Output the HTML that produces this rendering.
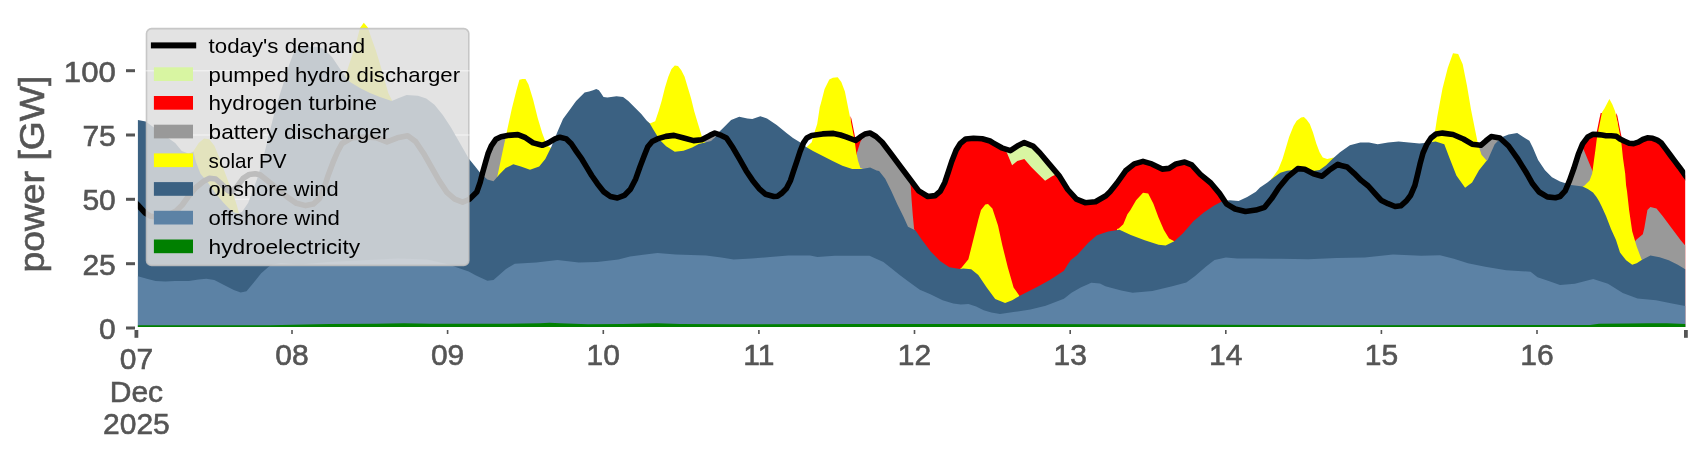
<!DOCTYPE html>
<html><head><meta charset="utf-8"><style>
html,body{margin:0;padding:0;background:#fff;}
body{width:1706px;height:460px;overflow:hidden;}
svg{display:block;will-change:transform;}
text{font-family:"Liberation Sans",sans-serif;}
.tl{font-size:30px;fill:#555555;stroke:#555555;stroke-width:0.6px;}
.yl{font-size:34.5px;fill:#555555;stroke:#555555;stroke-width:0.6px;}
.lg{font-size:21px;fill:#000;}
</style></head><body>
<svg width="1706" height="460" viewBox="0 0 1706 460" shape-rendering="geometricPrecision">
<rect width="1706" height="460" fill="#fff"/>
<defs><clipPath id="dc"><rect x="137.9" y="0" width="1547.3" height="328"/></clipPath></defs>
<g clip-path="url(#dc)">
<polygon points="850.5,327.0 850.5,116.0 851.5,119.0 853.2,127.4 855.5,139.3 860.4,136.9 865.0,134.0 870.0,133.0 876.0,136.5 882.2,142.2 891.3,154.3 900.4,166.5 909.6,178.7 918.7,190.9 927.8,196.5 935.2,195.6 940.4,191.1 944.8,182.4 948.3,172.0 951.7,161.5 956.1,150.2 960.4,143.3 965.7,139.0 973.5,138.2 982.2,138.8 990.0,141.0 993.0,142.8 1001.7,147.8 1010.4,150.6 1017.3,146.1 1024.3,142.6 1033.0,146.1 1039.9,153.0 1048.6,163.4 1059.0,175.6 1067.7,189.5 1076.4,199.2 1085.1,202.7 1095.5,201.7 1105.9,195.7 1110.0,191.7 1117.0,183.0 1125.6,170.8 1134.3,163.9 1143.0,161.4 1151.7,163.9 1162.1,169.1 1169.1,168.4 1176.0,163.9 1184.7,162.1 1191.7,164.9 1200.3,174.3 1210.8,183.0 1219.5,193.4 1223.0,201.0 1223.0,327.0" fill="#ff0000"/>
<polygon points="1578.0,327.0 1578.0,150.0 1582.6,143.9 1587.8,137.0 1593.0,134.3 1598.3,134.6 1602.0,135.0 1606.0,135.7 1611.1,135.7 1616.3,136.3 1620.0,139.0 1624.6,141.3 1629.1,143.3 1633.7,143.6 1638.3,142.1 1642.8,139.5 1647.4,137.8 1652.7,138.3 1657.3,140.1 1661.1,142.8 1665.7,148.9 1670.2,155.0 1674.8,161.1 1679.4,167.2 1685.2,175.3 1687.2,175.3 1687.2,327.0" fill="#ff0000"/>
<polygon points="1594.2,327.0 1594.2,141.0 1595.4,139.6 1596.8,131.8 1598.1,125.2 1599.4,118.7 1600.7,113.0 1602.5,113.0 1600.0,141.0 1600.0,327.0" fill="#ff0000"/>
<polygon points="1616.5,327.0 1616.5,113.0 1617.4,116.1 1618.7,122.6 1620.0,129.2 1621.3,135.7 1622.7,141.0 1620.0,141.0 1616.0,113.0 1616.0,327.0" fill="#ff0000"/>
<polygon points="1010.4,150.6 1017.3,146.1 1024.3,142.6 1033.0,146.1 1039.9,153.0 1048.6,163.4 1057.3,173.9 1052.1,176.3 1045.1,180.8 1038.2,173.9 1031.2,166.9 1024.3,158.9 1017.3,161.0 1012.1,165.2 1007.0,153.0 1005.0,150.0" fill="#d8f5a2"/>
<polygon points="481.5,327.0 481.5,181.0 482.8,171.9 485.4,162.8 488.0,153.7 491.3,145.8 495.8,139.3 501.1,136.7 507.6,135.4 507.6,327.0" fill="#999999"/>
<polygon points="703.0,327.0 703.0,139.0 709.9,135.4 714.8,133.1 714.8,327.0" fill="#999999"/>
<polygon points="857.0,327.0 857.0,152.5 860.4,141.7 865.0,134.0 870.0,133.0 876.0,136.5 882.2,142.2 891.3,154.3 900.4,166.5 909.6,178.7 910.3,184.0 910.8,187.0 911.6,200.0 912.8,215.2 914.1,228.9 914.5,229.5 914.5,327.0" fill="#999999"/>
<polygon points="1476.0,327.0 1476.0,145.0 1480.8,145.3 1486.0,140.8 1491.2,136.6 1499.9,138.0 1500.5,150.0 1500.5,327.0" fill="#999999"/>
<polygon points="1565.2,327.0 1565.2,190.9 1569.6,180.4 1573.9,168.3 1578.3,154.3 1583.0,148.0 1589.6,164.0 1593.0,172.0 1596.0,185.0 1596.0,327.0" fill="#999999"/>
<polygon points="1633.0,327.0 1633.0,245.0 1636.0,240.0 1642.8,234.3 1644.3,228.3 1647.4,210.0 1650.4,207.0 1656.5,208.5 1662.6,216.1 1671.7,228.3 1680.9,240.4 1685.2,245.5 1687.2,245.5 1687.2,327.0" fill="#999999"/>
<polygon points="191.0,327.0 191.0,153.0 193.5,151.0 198.7,143.1 204.0,138.6 209.2,139.2 214.4,145.7 217.0,152.0 220.3,160.0 224.8,172.2 229.4,184.4 234.0,196.5 237.0,205.7 238.5,211.8 239.5,214.0 239.5,327.0" fill="#ffff00"/>
<polygon points="344.0,327.0 344.0,77.0 345.3,76.0 348.7,65.7 352.2,55.2 356.5,41.3 360.0,28.0 363.8,22.7 367.8,27.4 371.3,37.8 375.7,50.0 380.0,63.9 384.3,79.0 388.3,92.9 392.3,101.0 392.3,327.0" fill="#ffff00"/>
<polygon points="495.0,327.0 495.0,181.0 497.0,178.0 502.6,151.4 507.2,130.0 511.8,108.7 516.4,90.5 519.4,79.8 522.4,78.9 525.5,78.9 528.5,84.4 533.1,99.6 537.7,117.9 542.2,133.1 546.8,145.3 551.4,148.3 553.0,146.0 553.0,327.0" fill="#ffff00"/>
<polygon points="648.0,327.0 648.0,122.0 649.8,123.5 655.2,121.3 658.5,111.5 661.7,100.7 665.0,87.6 668.3,76.7 671.5,69.1 674.8,65.4 678.0,65.9 681.3,70.2 684.6,76.7 687.8,87.6 691.1,98.5 694.3,111.5 697.6,122.4 700.9,133.3 703.0,140.9 705.5,142.5 705.5,327.0" fill="#ffff00"/>
<polygon points="805.0,327.0 805.0,148.0 806.3,147.5 811.7,142.3 815.0,130.7 817.2,124.1 819.8,107.0 821.0,103.0 824.6,89.1 829.3,79.6 832.9,77.7 837.7,77.2 841.3,82.0 844.9,91.5 847.3,103.5 849.7,115.4 852.1,127.4 854.4,139.3 856.1,151.3 858.0,160.8 860.4,168.0 863.0,169.0 863.0,327.0" fill="#ffff00"/>
<polygon points="960.0,327.0 960.0,269.0 961.3,268.0 968.4,259.3 972.6,242.4 978.3,219.8 981.0,210.0 985.3,204.5 988.0,204.0 992.4,208.5 998.0,225.4 1002.3,245.2 1007.9,267.8 1013.6,287.6 1019.2,295.5 1019.2,327.0" fill="#ffff00"/>
<polygon points="1117.0,327.0 1117.0,229.0 1118.7,228.5 1123.3,224.2 1127.4,214.2 1130.3,210.3 1136.1,200.3 1143.0,192.7 1148.2,193.4 1153.4,203.8 1158.6,217.7 1163.9,229.9 1169.1,238.6 1174.3,241.3 1174.3,327.0" fill="#ffff00"/>
<polygon points="1271.0,327.0 1271.0,179.0 1272.8,177.2 1278.3,169.6 1282.6,158.7 1285.9,147.8 1289.1,137.0 1293.5,126.1 1296.7,120.7 1301.1,117.4 1303.9,117.0 1306.5,119.6 1309.8,123.9 1313.0,132.6 1316.3,143.5 1319.6,152.2 1322.8,157.6 1327.2,159.1 1330.4,158.3 1333.7,157.5 1333.7,327.0" fill="#ffff00"/>
<polygon points="1432.0,327.0 1432.0,142.0 1433.9,139.0 1437.3,116.4 1442.5,88.6 1447.8,67.8 1453.0,53.2 1458.2,53.9 1462.7,64.3 1466.9,85.2 1471.0,109.5 1474.5,126.9 1478.0,144.2 1481.5,154.7 1487.0,161.0 1487.0,327.0" fill="#ffff00"/>
<polygon points="1582.0,327.0 1582.0,187.0 1584.3,185.7 1589.6,180.4 1592.2,173.5 1594.0,160.0 1595.4,150.0 1596.7,139.6 1598.1,131.8 1599.4,125.2 1600.7,118.7 1602.0,112.2 1604.6,108.3 1609.4,98.9 1612.4,104.4 1615.0,110.9 1616.3,116.1 1617.6,122.6 1618.9,129.2 1620.2,135.7 1621.6,144.8 1623.0,158.3 1625.2,173.5 1626.1,185.6 1627.0,190.9 1629.1,210.0 1632.2,231.3 1636.7,246.5 1641.3,258.7 1642.0,260.0 1642.0,327.0" fill="#ffff00"/>
<polygon points="135.9,327.0 135.9,120.0 137.9,120.0 145.7,121.5 155.7,128.7 166.1,136.5 175.2,143.1 181.8,150.9 188.3,153.5 193.5,152.0 196.0,162.0 200.5,173.7 208.1,182.8 215.7,193.5 223.3,202.6 230.9,210.3 235.5,213.0 238.5,213.5 242.1,211.8 248.2,202.7 252.8,190.5 257.3,178.3 261.9,163.1 266.5,144.8 271.0,126.6 275.6,108.3 281.3,89.8 285.2,78.0 289.1,65.0 293.0,54.6 297.0,49.3 302.2,47.4 308.7,46.7 316.5,46.7 321.7,48.0 326.9,52.0 332.2,57.2 337.4,65.0 342.6,72.8 346.5,78.0 350.0,82.0 360.0,88.0 370.0,93.0 380.0,97.0 391.0,100.7 392.3,100.7 398.8,98.1 406.6,95.0 418.0,95.7 426.3,98.6 434.5,104.8 442.8,115.1 451.0,127.5 459.3,141.9 467.6,156.4 469.1,159.0 475.2,166.6 481.3,174.2 487.4,179.4 493.5,181.2 499.6,174.2 505.7,168.1 513.3,164.2 520.9,166.6 530.0,169.7 539.2,166.6 545.3,159.0 551.4,146.8 557.8,130.9 563.0,119.1 569.6,110.0 576.1,100.9 584.6,92.4 589.1,91.5 593.1,90.2 596.3,89.1 598.9,90.2 600.9,93.0 603.5,97.0 607.4,97.6 616.5,96.3 623.1,97.0 628.3,100.9 634.8,107.4 641.3,113.9 646.6,120.4 649.8,123.5 653.0,128.9 659.6,139.8 666.1,146.3 674.8,151.7 683.5,150.7 692.2,147.4 698.7,144.1 705.2,142.5 711.0,141.0 714.8,137.5 718.5,132.5 722.9,128.3 731.1,120.1 739.2,116.8 747.4,118.5 752.3,119.1 760.4,116.2 767.0,118.5 776.7,125.0 786.5,133.1 793.0,138.0 801.2,142.9 806.5,147.2 813.0,151.1 822.8,156.0 832.6,160.9 842.4,165.7 852.2,169.0 862.0,169.0 870.1,167.4 876.6,170.6 879.1,171.1 885.2,178.7 891.3,190.9 897.4,204.6 903.5,216.7 908.0,226.8 912.6,228.9 915.6,230.4 921.7,239.6 930.9,251.7 940.0,260.9 949.4,267.3 959.8,269.0 963.3,268.4 971.2,269.2 978.3,274.9 986.7,287.6 995.2,298.9 1005.1,303.1 1012.2,300.3 1019.8,295.8 1038.0,286.6 1050.2,279.8 1063.9,270.7 1067.7,264.6 1070.8,260.0 1077.2,255.1 1088.5,242.4 1096.9,235.3 1108.2,231.6 1119.5,229.7 1130.8,235.1 1144.7,240.3 1158.6,244.8 1165.6,245.5 1174.3,241.3 1183.0,233.3 1193.4,221.2 1203.8,212.5 1214.2,205.6 1222.9,201.0 1229.9,200.3 1238.6,201.0 1247.2,196.9 1255.9,191.7 1260.0,187.5 1267.4,182.6 1273.9,177.2 1280.4,172.8 1287.0,170.7 1293.5,170.0 1302.2,170.7 1310.9,171.3 1319.6,170.0 1326.1,165.2 1332.6,158.7 1340.0,152.2 1349.9,145.3 1360.3,142.5 1369.0,142.5 1377.7,144.2 1388.1,142.5 1398.6,141.5 1409.0,142.5 1419.4,143.5 1429.8,142.5 1435.6,141.5 1444.3,144.2 1449.5,158.1 1456.4,175.5 1465.1,187.7 1472.1,182.5 1479.0,170.3 1486.0,161.6 1487.7,159.9 1494.7,144.2 1501.6,137.3 1508.6,134.5 1517.2,133.1 1522.5,136.6 1529.4,140.8 1532.9,147.7 1538.1,159.9 1545.0,170.3 1552.0,177.2 1560.0,181.5 1571.1,185.1 1582.6,186.5 1587.8,189.1 1593.0,192.6 1596.5,197.0 1599.1,201.3 1601.7,206.5 1606.0,216.0 1611.0,229.0 1616.0,240.0 1620.0,252.6 1626.1,260.2 1632.2,264.8 1636.7,263.2 1641.3,260.2 1650.4,255.6 1659.6,257.2 1668.7,260.2 1677.8,264.8 1685.2,269.3 1687.2,269.3 1687.2,327.0" fill="#3b6182"/>
<polygon points="135.9,327.0 135.9,276.2 137.9,276.2 147.7,279.1 155.6,281.1 165.3,281.5 175.1,281.1 188.8,281.1 198.6,279.5 206.4,278.7 214.3,280.1 224.0,285.0 233.8,289.9 240.7,292.4 246.5,291.3 253.4,283.0 261.2,273.3 269.0,266.4 273.0,264.5 280.8,263.1 292.5,263.9 300.0,264.5 329.3,261.9 358.7,260.5 397.8,258.6 427.2,259.6 448.7,264.5 460.0,268.5 468.7,271.5 476.0,275.5 487.4,280.8 493.5,279.9 505.7,269.2 514.8,263.7 536.2,262.5 557.5,260.1 578.8,262.5 597.1,261.9 618.4,259.5 630.0,256.4 645.2,254.6 657.4,253.1 675.7,254.6 706.1,255.5 721.4,257.6 733.6,259.4 751.8,258.5 770.1,257.0 788.4,255.5 810.0,255.5 817.4,256.9 834.7,255.8 869.5,255.8 883.4,262.1 891.0,268.0 900.0,275.2 909.1,282.1 919.8,289.7 930.4,294.2 942.6,300.3 953.3,303.4 960.9,304.4 968.5,304.1 976.1,306.4 983.7,310.2 991.3,312.5 1000.0,314.0 1015.2,311.8 1030.4,309.5 1045.7,305.7 1063.9,298.8 1071.5,292.7 1080.7,287.4 1091.3,282.8 1100.0,283.6 1105.4,286.2 1110.0,287.6 1121.3,290.4 1132.6,292.7 1152.4,291.0 1172.2,286.2 1186.3,282.5 1194.8,276.3 1206.1,266.4 1214.5,259.9 1225.9,257.4 1237.2,258.5 1256.9,258.5 1280.0,258.8 1308.3,259.3 1336.5,257.9 1364.8,257.4 1393.0,254.5 1421.3,255.7 1440.0,255.3 1453.9,258.8 1467.9,263.3 1485.3,266.8 1506.2,270.3 1530.6,271.7 1537.5,277.3 1548.0,280.8 1560.0,285.0 1574.8,283.7 1593.2,278.9 1608.0,283.7 1622.8,292.9 1637.5,298.5 1656.0,300.3 1670.8,303.3 1685.2,305.9 1687.2,305.9 1687.2,327.0" fill="#5c82a5"/>
<polygon points="135.9,327.0 135.9,325.2 137.9,325.2 270.0,325.2 329.0,323.9 376.0,323.8 404.0,323.2 430.0,323.7 500.0,323.8 540.0,323.2 549.6,322.7 560.0,323.3 588.0,324.3 623.0,324.0 645.0,323.6 657.0,323.3 680.0,323.9 730.0,324.3 853.0,324.0 1030.0,324.0 1330.0,325.2 1590.0,325.0 1599.0,323.7 1628.0,323.4 1648.0,323.2 1667.0,323.3 1685.2,324.0 1687.2,324.0 1687.2,327.0" fill="#008000"/>
<polyline points="134.0,200.8 137.9,205.0 145.2,213.0 150.4,216.2 157.0,217.0 166.0,216.0 176.1,211.0 182.2,205.0 188.3,196.5 195.9,187.5 203.5,181.3 209.6,178.3 215.7,179.0 221.8,184.4 227.9,190.5 231.0,192.0 237.0,186.6 243.1,178.3 249.2,174.5 255.3,173.7 260.0,174.8 269.1,182.0 278.3,189.6 287.4,197.2 296.5,203.3 305.7,205.6 313.3,204.1 319.4,198.7 324.0,188.1 328.5,174.4 333.1,162.2 337.7,151.5 342.0,143.5 351.9,137.8 366.4,137.0 376.7,137.8 387.0,141.9 397.4,137.8 407.7,135.7 415.6,141.5 423.5,153.2 431.3,166.9 439.1,180.6 446.9,192.4 454.8,199.2 462.6,202.1 469.1,199.5 476.8,192.0 480.2,182.3 482.8,171.9 485.4,162.8 488.0,153.7 491.3,145.8 495.8,139.3 501.1,136.7 507.6,135.4 517.9,134.6 525.5,137.7 533.1,142.9 542.2,145.3 548.3,142.9 555.0,138.9 559.9,137.2 566.4,138.9 571.3,143.8 576.2,151.1 581.9,159.2 586.8,167.4 591.7,175.5 597.4,183.7 603.9,191.9 610.4,196.5 617.4,198.0 624.3,195.4 630.4,189.3 635.7,178.9 640.0,166.7 644.3,155.4 647.8,146.7 652.2,141.5 657.4,138.9 665.9,136.4 674.0,135.4 683.8,138.0 693.6,140.6 701.7,139.7 709.9,135.4 714.8,133.1 721.3,135.4 726.5,138.0 733.0,147.8 739.6,159.2 746.1,170.7 752.6,180.4 759.1,188.6 765.7,194.3 773.8,196.5 777.5,196.2 781.5,193.4 786.4,188.5 790.5,180.4 793.7,170.6 797.0,160.8 800.2,151.1 803.5,142.9 806.8,138.0 811.7,135.5 822.6,133.9 833.5,133.4 840.5,135.0 846.1,136.9 855.6,140.5 860.4,136.9 865.0,134.0 870.0,133.0 876.0,136.5 882.2,142.2 891.3,154.3 900.4,166.5 909.6,178.7 918.7,190.9 927.8,196.5 935.2,195.6 940.4,191.1 944.8,182.4 948.3,172.0 951.7,161.5 956.1,150.2 960.4,143.3 965.7,139.0 973.5,138.2 982.2,138.8 990.0,141.0 993.0,142.8 1001.7,147.8 1010.4,150.6 1017.3,146.1 1024.3,142.6 1033.0,146.1 1039.9,153.0 1048.6,163.4 1059.0,175.6 1067.7,189.5 1076.4,199.2 1085.1,202.7 1095.5,201.7 1105.9,195.7 1110.0,191.7 1117.0,183.0 1125.6,170.8 1134.3,163.9 1143.0,161.4 1151.7,163.9 1162.1,169.1 1169.1,168.4 1176.0,163.9 1184.7,162.1 1191.7,164.9 1200.3,174.3 1210.8,183.0 1219.5,193.4 1226.4,203.8 1235.1,209.0 1245.5,211.5 1255.9,210.1 1264.6,207.3 1271.6,198.6 1278.7,187.7 1287.4,177.2 1297.8,168.6 1304.7,169.3 1313.4,173.8 1322.1,176.2 1329.1,170.3 1337.8,164.4 1341.0,165.5 1347.1,167.0 1354.1,173.3 1361.2,180.4 1368.3,186.0 1375.3,193.8 1381.0,200.2 1388.1,203.7 1395.1,206.5 1400.8,205.8 1406.4,200.9 1410.7,195.2 1414.9,185.3 1417.7,174.0 1420.0,164.1 1423.0,153.0 1426.9,144.2 1431.0,138.0 1436.0,134.0 1442.5,133.1 1453.0,134.5 1463.4,139.0 1472.1,144.2 1480.8,145.3 1486.0,140.8 1491.2,136.6 1499.9,138.0 1508.6,146.0 1517.2,158.1 1525.9,172.0 1532.6,183.8 1539.1,192.0 1547.3,196.9 1555.4,197.7 1560.0,196.5 1565.2,190.9 1569.6,180.4 1573.9,168.3 1578.3,154.3 1582.6,143.9 1587.8,137.0 1593.0,134.3 1598.3,134.6 1602.0,135.0 1606.0,135.7 1611.1,135.7 1616.3,136.3 1620.0,139.0 1624.6,141.3 1629.1,143.3 1633.7,143.6 1638.3,142.1 1642.8,139.5 1647.4,137.8 1652.7,138.3 1657.3,140.1 1661.1,142.8 1665.7,148.9 1670.2,155.0 1674.8,161.1 1679.4,167.2 1685.2,175.3 1689.0,180.6" fill="none" stroke="#000" stroke-width="5.6" stroke-linejoin="round"/>
</g>
<rect x="146.5" y="28.6" width="322.3" height="236.8" rx="5" ry="5" fill="#dedede" fill-opacity="0.85" stroke="#c0c0c0" stroke-opacity="0.85" stroke-width="1.6"/>
<mask id="gm" maskUnits="userSpaceOnUse" x="0" y="0" width="1706" height="460"><rect x="0" y="0" width="1706" height="460" fill="#fff"/><polygon points="191.0,327.0 191.0,153.0 193.5,151.0 198.7,143.1 204.0,138.6 209.2,139.2 214.4,145.7 217.0,152.0 220.3,160.0 224.8,172.2 229.4,184.4 234.0,196.5 237.0,205.7 238.5,211.8 239.5,214.0 239.5,327.0" fill="#000"/><polygon points="344.0,327.0 344.0,77.0 345.3,76.0 348.7,65.7 352.2,55.2 356.5,41.3 360.0,28.0 363.8,22.7 367.8,27.4 371.3,37.8 375.7,50.0 380.0,63.9 384.3,79.0 388.3,92.9 392.3,101.0 392.3,327.0" fill="#000"/><polygon points="135.9,327.0 135.9,120.0 137.9,120.0 145.7,121.5 155.7,128.7 166.1,136.5 175.2,143.1 181.8,150.9 188.3,153.5 193.5,152.0 196.0,162.0 200.5,173.7 208.1,182.8 215.7,193.5 223.3,202.6 230.9,210.3 235.5,213.0 238.5,213.5 242.1,211.8 248.2,202.7 252.8,190.5 257.3,178.3 261.9,163.1 266.5,144.8 271.0,126.6 275.6,108.3 281.3,89.8 285.2,78.0 289.1,65.0 293.0,54.6 297.0,49.3 302.2,47.4 308.7,46.7 316.5,46.7 321.7,48.0 326.9,52.0 332.2,57.2 337.4,65.0 342.6,72.8 346.5,78.0 350.0,82.0 360.0,88.0 370.0,93.0 380.0,97.0 391.0,100.7 392.3,100.7 398.8,98.1 406.6,95.0 418.0,95.7 426.3,98.6 434.5,104.8 442.8,115.1 451.0,127.5 459.3,141.9 467.6,156.4 469.1,159.0 475.2,166.6 481.3,174.2 487.4,179.4 493.5,181.2 499.6,174.2 505.7,168.1 513.3,164.2 520.9,166.6 530.0,169.7 539.2,166.6 545.3,159.0 551.4,146.8 557.8,130.9 563.0,119.1 569.6,110.0 576.1,100.9 584.6,92.4 589.1,91.5 593.1,90.2 596.3,89.1 598.9,90.2 600.9,93.0 603.5,97.0 607.4,97.6 616.5,96.3 623.1,97.0 628.3,100.9 634.8,107.4 641.3,113.9 646.6,120.4 649.8,123.5 653.0,128.9 659.6,139.8 666.1,146.3 674.8,151.7 683.5,150.7 692.2,147.4 698.7,144.1 705.2,142.5 711.0,141.0 714.8,137.5 718.5,132.5 722.9,128.3 731.1,120.1 739.2,116.8 747.4,118.5 752.3,119.1 760.4,116.2 767.0,118.5 776.7,125.0 786.5,133.1 793.0,138.0 801.2,142.9 806.5,147.2 813.0,151.1 822.8,156.0 832.6,160.9 842.4,165.7 852.2,169.0 862.0,169.0 870.1,167.4 876.6,170.6 879.1,171.1 885.2,178.7 891.3,190.9 897.4,204.6 903.5,216.7 908.0,226.8 912.6,228.9 915.6,230.4 921.7,239.6 930.9,251.7 940.0,260.9 949.4,267.3 959.8,269.0 963.3,268.4 971.2,269.2 978.3,274.9 986.7,287.6 995.2,298.9 1005.1,303.1 1012.2,300.3 1019.8,295.8 1038.0,286.6 1050.2,279.8 1063.9,270.7 1067.7,264.6 1070.8,260.0 1077.2,255.1 1088.5,242.4 1096.9,235.3 1108.2,231.6 1119.5,229.7 1130.8,235.1 1144.7,240.3 1158.6,244.8 1165.6,245.5 1174.3,241.3 1183.0,233.3 1193.4,221.2 1203.8,212.5 1214.2,205.6 1222.9,201.0 1229.9,200.3 1238.6,201.0 1247.2,196.9 1255.9,191.7 1260.0,187.5 1267.4,182.6 1273.9,177.2 1280.4,172.8 1287.0,170.7 1293.5,170.0 1302.2,170.7 1310.9,171.3 1319.6,170.0 1326.1,165.2 1332.6,158.7 1340.0,152.2 1349.9,145.3 1360.3,142.5 1369.0,142.5 1377.7,144.2 1388.1,142.5 1398.6,141.5 1409.0,142.5 1419.4,143.5 1429.8,142.5 1435.6,141.5 1444.3,144.2 1449.5,158.1 1456.4,175.5 1465.1,187.7 1472.1,182.5 1479.0,170.3 1486.0,161.6 1487.7,159.9 1494.7,144.2 1501.6,137.3 1508.6,134.5 1517.2,133.1 1522.5,136.6 1529.4,140.8 1532.9,147.7 1538.1,159.9 1545.0,170.3 1552.0,177.2 1560.0,181.5 1571.1,185.1 1582.6,186.5 1587.8,189.1 1593.0,192.6 1596.5,197.0 1599.1,201.3 1601.7,206.5 1606.0,216.0 1611.0,229.0 1616.0,240.0 1620.0,252.6 1626.1,260.2 1632.2,264.8 1636.7,263.2 1641.3,260.2 1650.4,255.6 1659.6,257.2 1668.7,260.2 1677.8,264.8 1685.2,269.3 1687.2,269.3 1687.2,327.0" fill="#000"/><polyline points="134.0,200.8 137.9,205.0 145.2,213.0 150.4,216.2 157.0,217.0 166.0,216.0 176.1,211.0 182.2,205.0 188.3,196.5 195.9,187.5 203.5,181.3 209.6,178.3 215.7,179.0 221.8,184.4 227.9,190.5 231.0,192.0 237.0,186.6 243.1,178.3 249.2,174.5 255.3,173.7 260.0,174.8 269.1,182.0 278.3,189.6 287.4,197.2 296.5,203.3 305.7,205.6 313.3,204.1 319.4,198.7 324.0,188.1 328.5,174.4 333.1,162.2 337.7,151.5 342.0,143.5 351.9,137.8 366.4,137.0 376.7,137.8 387.0,141.9 397.4,137.8 407.7,135.7 415.6,141.5 423.5,153.2 431.3,166.9 439.1,180.6 446.9,192.4 454.8,199.2 462.6,202.1 469.1,199.5 476.8,192.0 480.2,182.3 482.8,171.9 485.4,162.8 488.0,153.7 491.3,145.8 495.8,139.3 501.1,136.7 507.6,135.4 517.9,134.6 525.5,137.7 533.1,142.9 542.2,145.3 548.3,142.9 555.0,138.9 559.9,137.2 566.4,138.9 571.3,143.8 576.2,151.1 581.9,159.2 586.8,167.4 591.7,175.5 597.4,183.7 603.9,191.9 610.4,196.5 617.4,198.0 624.3,195.4 630.4,189.3 635.7,178.9 640.0,166.7 644.3,155.4 647.8,146.7 652.2,141.5 657.4,138.9 665.9,136.4 674.0,135.4 683.8,138.0 693.6,140.6 701.7,139.7 709.9,135.4 714.8,133.1 721.3,135.4 726.5,138.0 733.0,147.8 739.6,159.2 746.1,170.7 752.6,180.4 759.1,188.6 765.7,194.3 773.8,196.5 777.5,196.2 781.5,193.4 786.4,188.5 790.5,180.4 793.7,170.6 797.0,160.8 800.2,151.1 803.5,142.9 806.8,138.0 811.7,135.5 822.6,133.9 833.5,133.4 840.5,135.0 846.1,136.9 855.6,140.5 860.4,136.9 865.0,134.0 870.0,133.0 876.0,136.5 882.2,142.2 891.3,154.3 900.4,166.5 909.6,178.7 918.7,190.9 927.8,196.5 935.2,195.6 940.4,191.1 944.8,182.4 948.3,172.0 951.7,161.5 956.1,150.2 960.4,143.3 965.7,139.0 973.5,138.2 982.2,138.8 990.0,141.0 993.0,142.8 1001.7,147.8 1010.4,150.6 1017.3,146.1 1024.3,142.6 1033.0,146.1 1039.9,153.0 1048.6,163.4 1059.0,175.6 1067.7,189.5 1076.4,199.2 1085.1,202.7 1095.5,201.7 1105.9,195.7 1110.0,191.7 1117.0,183.0 1125.6,170.8 1134.3,163.9 1143.0,161.4 1151.7,163.9 1162.1,169.1 1169.1,168.4 1176.0,163.9 1184.7,162.1 1191.7,164.9 1200.3,174.3 1210.8,183.0 1219.5,193.4 1226.4,203.8 1235.1,209.0 1245.5,211.5 1255.9,210.1 1264.6,207.3 1271.6,198.6 1278.7,187.7 1287.4,177.2 1297.8,168.6 1304.7,169.3 1313.4,173.8 1322.1,176.2 1329.1,170.3 1337.8,164.4 1341.0,165.5 1347.1,167.0 1354.1,173.3 1361.2,180.4 1368.3,186.0 1375.3,193.8 1381.0,200.2 1388.1,203.7 1395.1,206.5 1400.8,205.8 1406.4,200.9 1410.7,195.2 1414.9,185.3 1417.7,174.0 1420.0,164.1 1423.0,153.0 1426.9,144.2 1431.0,138.0 1436.0,134.0 1442.5,133.1 1453.0,134.5 1463.4,139.0 1472.1,144.2 1480.8,145.3 1486.0,140.8 1491.2,136.6 1499.9,138.0 1508.6,146.0 1517.2,158.1 1525.9,172.0 1532.6,183.8 1539.1,192.0 1547.3,196.9 1555.4,197.7 1560.0,196.5 1565.2,190.9 1569.6,180.4 1573.9,168.3 1578.3,154.3 1582.6,143.9 1587.8,137.0 1593.0,134.3 1598.3,134.6 1602.0,135.0 1606.0,135.7 1611.1,135.7 1616.3,136.3 1620.0,139.0 1624.6,141.3 1629.1,143.3 1633.7,143.6 1638.3,142.1 1642.8,139.5 1647.4,137.8 1652.7,138.3 1657.3,140.1 1661.1,142.8 1665.7,148.9 1670.2,155.0 1674.8,161.1 1679.4,167.2 1685.2,175.3" fill="none" stroke="#000" stroke-width="5.6" stroke-linejoin="round"/></mask>
<g mask="url(#gm)" stroke="#fff" stroke-opacity="0.45" stroke-width="1.5"><line x1="145.5" y1="70.7" x2="469.8" y2="70.7"/><line x1="145.5" y1="135.0" x2="469.8" y2="135.0"/><line x1="145.5" y1="199.3" x2="469.8" y2="199.3"/><line x1="145.5" y1="263.7" x2="469.8" y2="263.7"/></g>
<rect x="150.9" y="42.4" width="45.3" height="6" fill="#000"/>
<text x="208.6" y="52.8" class="lg" textLength="156.5" lengthAdjust="spacingAndGlyphs">today's demand</text>
<rect x="153.9" y="67.3" width="39.1" height="13.7" fill="#d8f5a2"/>
<text x="208.6" y="81.5" class="lg" textLength="251.5" lengthAdjust="spacingAndGlyphs">pumped hydro discharger</text>
<rect x="153.9" y="96.0" width="39.1" height="13.7" fill="#ff0000"/>
<text x="208.6" y="110.1" class="lg" textLength="168.5" lengthAdjust="spacingAndGlyphs">hydrogen turbine</text>
<rect x="153.9" y="124.7" width="39.1" height="13.7" fill="#999999"/>
<text x="208.6" y="138.8" class="lg" textLength="180.8" lengthAdjust="spacingAndGlyphs">battery discharger</text>
<rect x="153.9" y="153.4" width="39.1" height="13.7" fill="#ffff00"/>
<text x="208.6" y="167.5" class="lg" textLength="78" lengthAdjust="spacingAndGlyphs">solar PV</text>
<rect x="153.9" y="182.1" width="39.1" height="13.7" fill="#3b6182"/>
<text x="208.6" y="196.2" class="lg" textLength="130" lengthAdjust="spacingAndGlyphs">onshore wind</text>
<rect x="153.9" y="210.8" width="39.1" height="13.7" fill="#5c82a5"/>
<text x="208.6" y="224.8" class="lg" textLength="131.3" lengthAdjust="spacingAndGlyphs">offshore wind</text>
<rect x="153.9" y="239.5" width="39.1" height="13.7" fill="#008000"/>
<text x="208.6" y="253.5" class="lg" textLength="151.5" lengthAdjust="spacingAndGlyphs">hydroelectricity</text>
<rect x="126" y="326.5" width="9" height="3" fill="#555555"/>
<text x="115.8" y="338.8" text-anchor="end" class="tl">0</text>
<rect x="126" y="262.2" width="9" height="3" fill="#555555"/>
<text x="115.8" y="274.5" text-anchor="end" class="tl">25</text>
<rect x="126" y="197.8" width="9" height="3" fill="#555555"/>
<text x="115.8" y="210.1" text-anchor="end" class="tl">50</text>
<rect x="126" y="133.5" width="9" height="3" fill="#555555"/>
<text x="115.8" y="145.8" text-anchor="end" class="tl">75</text>
<rect x="126" y="69.2" width="9" height="3" fill="#555555"/>
<text x="115.8" y="81.5" text-anchor="end" class="tl" textLength="52" lengthAdjust="spacingAndGlyphs">100</text>
<rect x="134.5" y="330" width="3.8" height="7.8" fill="#555555"/>
<rect x="1684" y="330" width="3.8" height="7.8" fill="#555555"/>
<rect x="291.2" y="330" width="1.6" height="4" fill="#555555"/>
<rect x="446.8" y="330" width="1.6" height="4" fill="#555555"/>
<rect x="602.5" y="330" width="1.6" height="4" fill="#555555"/>
<rect x="758.1" y="330" width="1.6" height="4" fill="#555555"/>
<rect x="913.7" y="330" width="1.6" height="4" fill="#555555"/>
<rect x="1069.4" y="330" width="1.6" height="4" fill="#555555"/>
<rect x="1225.0" y="330" width="1.6" height="4" fill="#555555"/>
<rect x="1380.6" y="330" width="1.6" height="4" fill="#555555"/>
<rect x="1536.2" y="330" width="1.6" height="4" fill="#555555"/>
<text x="292.0" y="364.8" text-anchor="middle" class="tl">08</text>
<text x="447.6" y="364.8" text-anchor="middle" class="tl">09</text>
<text x="603.3" y="364.8" text-anchor="middle" class="tl">10</text>
<text x="758.9" y="364.8" text-anchor="middle" class="tl">11</text>
<text x="914.5" y="364.8" text-anchor="middle" class="tl">12</text>
<text x="1070.2" y="364.8" text-anchor="middle" class="tl">13</text>
<text x="1225.8" y="364.8" text-anchor="middle" class="tl">14</text>
<text x="1381.4" y="364.8" text-anchor="middle" class="tl">15</text>
<text x="1537.0" y="364.8" text-anchor="middle" class="tl">16</text>
<text x="136.4" y="369.1" text-anchor="middle" class="tl">07</text>
<text x="136.4" y="402.2" text-anchor="middle" class="tl">Dec</text>
<text x="136.4" y="434.3" text-anchor="middle" class="tl">2025</text>
<text transform="translate(43.8,174.1) rotate(-90)" text-anchor="middle" class="yl" textLength="197" lengthAdjust="spacingAndGlyphs">power [GW]</text>
</svg>
</body></html>
